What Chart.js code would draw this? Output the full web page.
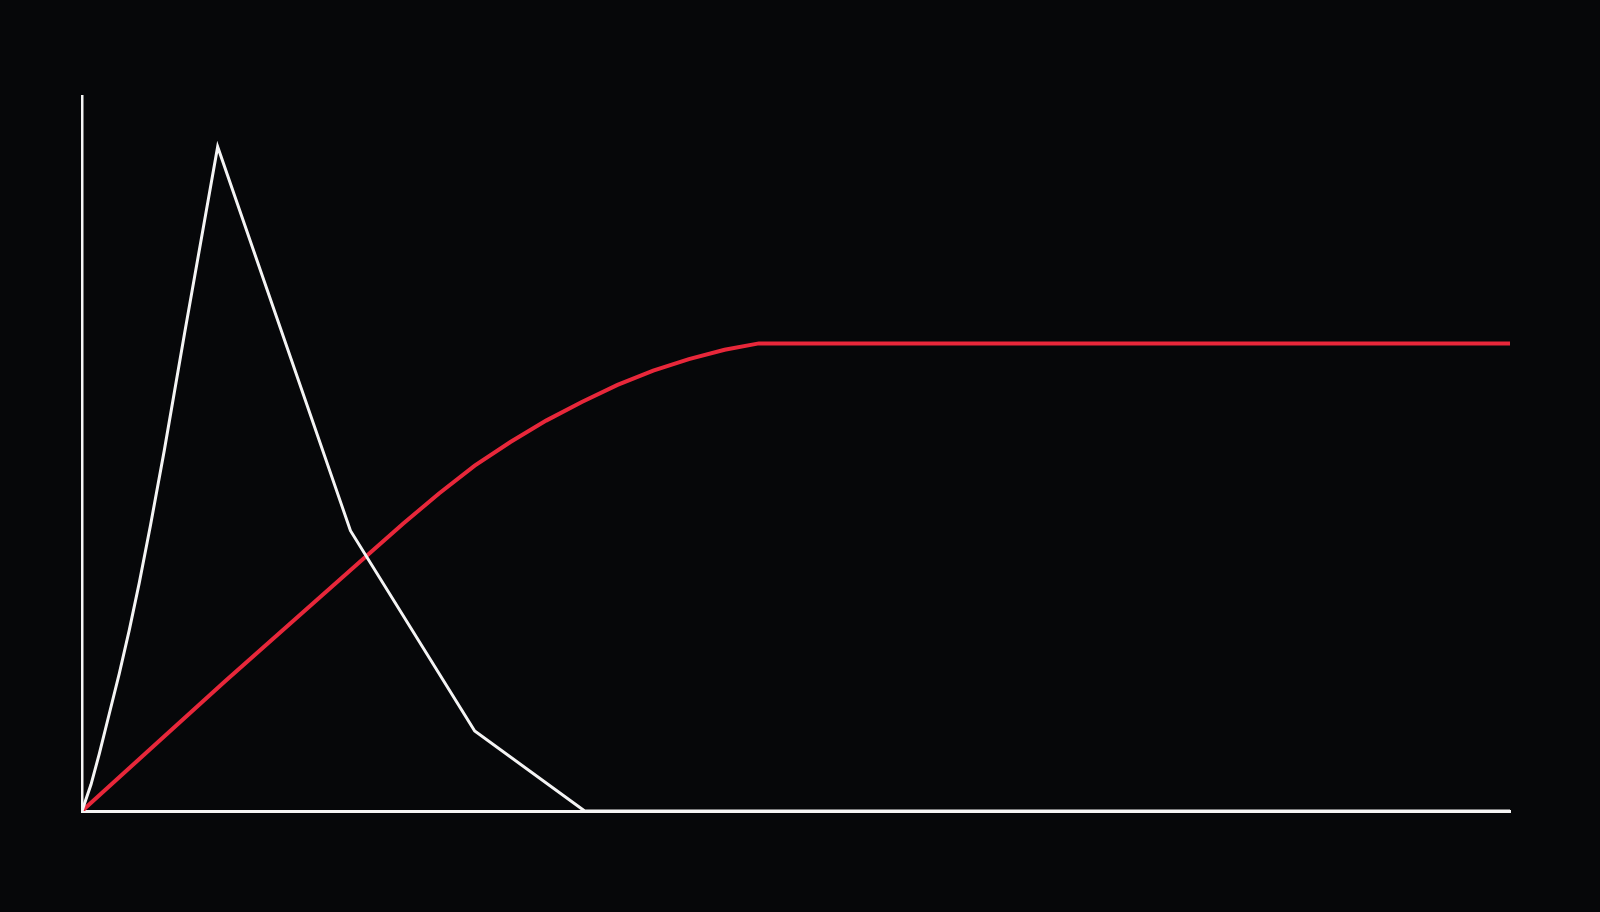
<!DOCTYPE html>
<html>
<head>
<meta charset="utf-8">
<script src="https://cdn.jsdelivr.net/npm/chart.js@4.4.1/dist/chart.umd.min.js"></script>
<style>
    html, body { margin: 0; padding: 0; background: #060709; }
    canvas { display: block; }
</style>
</head>
<body>
<canvas id="chart-lines" width="1600" height="912"></canvas>
<script>
// white series: sharp peak, then falls back to zero
const whiteX = [0, 0.63, 1.21, 1.91, 2.61, 3.31, 4.01, 4.8, 5.76, 7.19, 9.5, 18.8, 27.5, 35.2, 100];
const whiteY = [0, 3.7, 8.0, 13.6, 19.2, 25.3, 31.9, 40.0, 50.4, 66.9, 92.9, 39.2, 11.2, 0, 0];

// red series: rises, bends and levels off
const redX = [0, 10, 20, 22.5, 25, 27.5, 30, 32.5, 35, 37.5, 40, 42.5, 45, 47.4, 100];
const redY = [0, 18.1, 35.8, 40.2, 44.4, 48.3, 51.6, 54.6, 57.2, 59.6, 61.6, 63.2, 64.5, 65.4, 65.4];

function toPoints(xs, ys) {
    return xs.map((x, i) => ({ x: x, y: ys[i] }));
}

window.onload = function(){

    let myChart = new Chart(
        document.getElementById("chart-lines"),
        {
            type: 'line',
            data: {
                datasets: [
                    {
                        label: 'white',
                        data: toPoints(whiteX, whiteY),
                        borderColor: '#f4f4f4',
                        borderWidth: 3,
                        pointRadius: 0,
                        tension: 0,
                        fill: false
                    },
                    {
                        label: 'red',
                        data: toPoints(redX, redY),
                        borderColor: '#e8273a',
                        borderWidth: 4,
                        pointRadius: 0,
                        tension: 0,
                        fill: false
                    }
                ]
            },
            options: {
                responsive: false,
                animation: false,
                devicePixelRatio: 1,
                layout: {
                    padding: { left: 74, right: 90, top: 96, bottom: 93 }
                },
                plugins: {
                    legend: { display: false },
                    tooltip: { enabled: false }
                },
                scales: {
                    x: {
                        type: 'linear',
                        min: 0,
                        max: 100,
                        grid: { display: false },
                        ticks: { display: false },
                        border: { display: true, color: '#f4f4f4', width: 3 }
                    },
                    y: {
                        min: 0,
                        max: 100,
                        grid: { display: false },
                        ticks: { display: false },
                        border: { display: true, color: '#f4f4f4', width: 2.5 }
                    }
                }
            }
        }
    );
}
</script>
</body>
</html>
